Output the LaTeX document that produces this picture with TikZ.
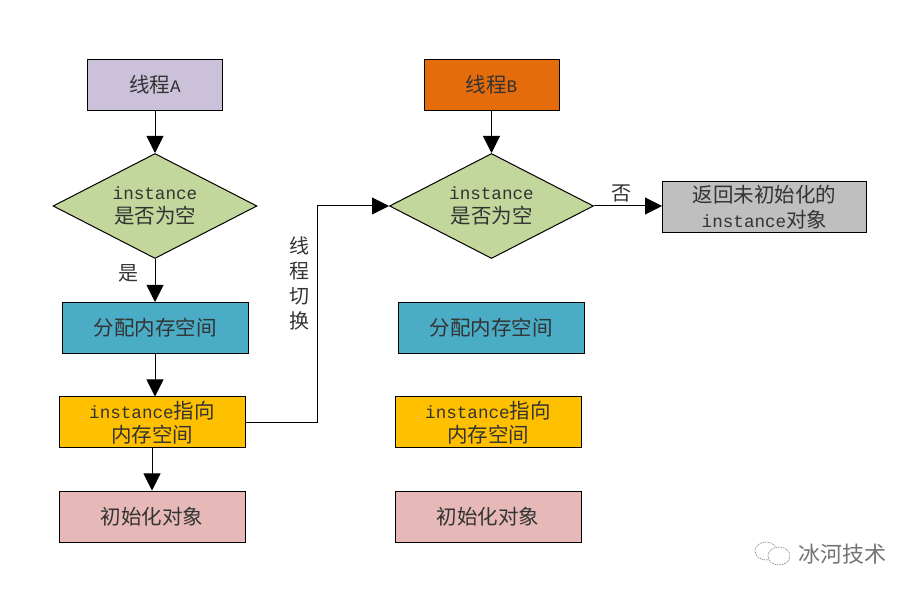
\documentclass[tikz,border=0pt]{standalone}
\usepackage{fontspec}
\setmainfont{Noto Sans CJK SC}
\newfontfamily\lat[Scale=0.86]{Liberation Mono}
\usetikzlibrary{arrows.meta,shapes.geometric}
\newcommand{\inst}{{\lat instance}}
\definecolor{dgreen}{HTML}{C3D69B}
\definecolor{purp}{HTML}{CCC1DA}
\definecolor{orng}{HTML}{E46C0A}
\definecolor{blu}{HTML}{4BACC6}
\definecolor{yel}{HTML}{FFC000}
\definecolor{pnk}{HTML}{E6B9B8}
\definecolor{gry}{HTML}{BFBFBF}
\tikzset{
  x=1pt,y=-1pt,
  base/.style={draw=black,line width=1pt,inner sep=0pt,align=center,font=\fontsize{20.5}{24.5}\selectfont,text=black!80},
  rbox/.style={base,rectangle,minimum height=51pt},
  dia/.style={base,diamond,aspect=1.94,minimum width=204pt,minimum height=105pt,fill=dgreen},
  link/.style={draw=black,line width=1pt,-{Triangle[length=17pt,width=17pt]}},
  lab/.style={inner sep=0pt,text=black!80,align=center,font=\fontsize{20}{25}\selectfont},
  bubble/.style={draw=black!45,line width=.7pt,dash pattern=on 1.5pt off 1pt},
}
\begin{document}
\begin{tikzpicture}
\useasboundingbox (0,0) rectangle (916,593);
% left column
\node[rbox,fill=purp,minimum width=135pt] (ta) at (155,85) {线程{\lat A}};
\node[dia] (da) at (155,206) {\inst\\是否为空};
\node[rbox,fill=blu,minimum width=186pt] (ma) at (155,328) {分配内存空间};
\node[rbox,fill=yel,minimum width=186pt] (ia) at (152,422.5) {\inst 指向\\内存空间};
\node[rbox,fill=pnk,minimum width=186pt] (oa) at (152,516.5) {初始化对象};
% right column
\node[rbox,fill=orng,minimum width=135pt] (tb) at (491.5,85) {线程{\lat B}};
\node[dia] (db) at (491.5,206) {\inst\\是否为空};
\node[rbox,fill=gry,minimum width=204pt] (rb) at (764.5,207) {返回未初始化的\\\inst 对象};
\node[rbox,fill=blu,minimum width=186pt] (mb) at (491,328) {分配内存空间};
\node[rbox,fill=yel,minimum width=186pt] (ib) at (488,422.5) {\inst 指向\\内存空间};
\node[rbox,fill=pnk,minimum width=186pt] (ob) at (488,516.5) {初始化对象};
% connectors
\draw[link] (ta) -- (da);
\draw[link] (da) -- (ma);
\draw[link] (ma.south) -- (ma.south |- ia.north);
\draw[link] (ia.south) -- (oa.north);
\draw[link] (tb) -- (db);
\draw[link] (db) -- (db.east -| rb.west);
\draw[link] (ia.east) -- (317.5,422.5) -- (317.5,206) -- (db.west);
% labels
\node[lab] (l1) at (128,273) {是};
\node[lab] (l2) at (621,193) {否};
\node[lab] (l3) at (299.5,283.5) {线\\程\\切\\换};
% watermark
\draw[bubble] (766,551) ellipse [x radius=11pt,y radius=9pt];
\draw[bubble,fill=white] (779,556) ellipse [x radius=11pt,y radius=9pt];
\node[inner sep=0pt,text=black!55,font=\fontsize{22}{24}\selectfont] (wm) at (842,554) {冰河技术};
\end{tikzpicture}
\end{document}
